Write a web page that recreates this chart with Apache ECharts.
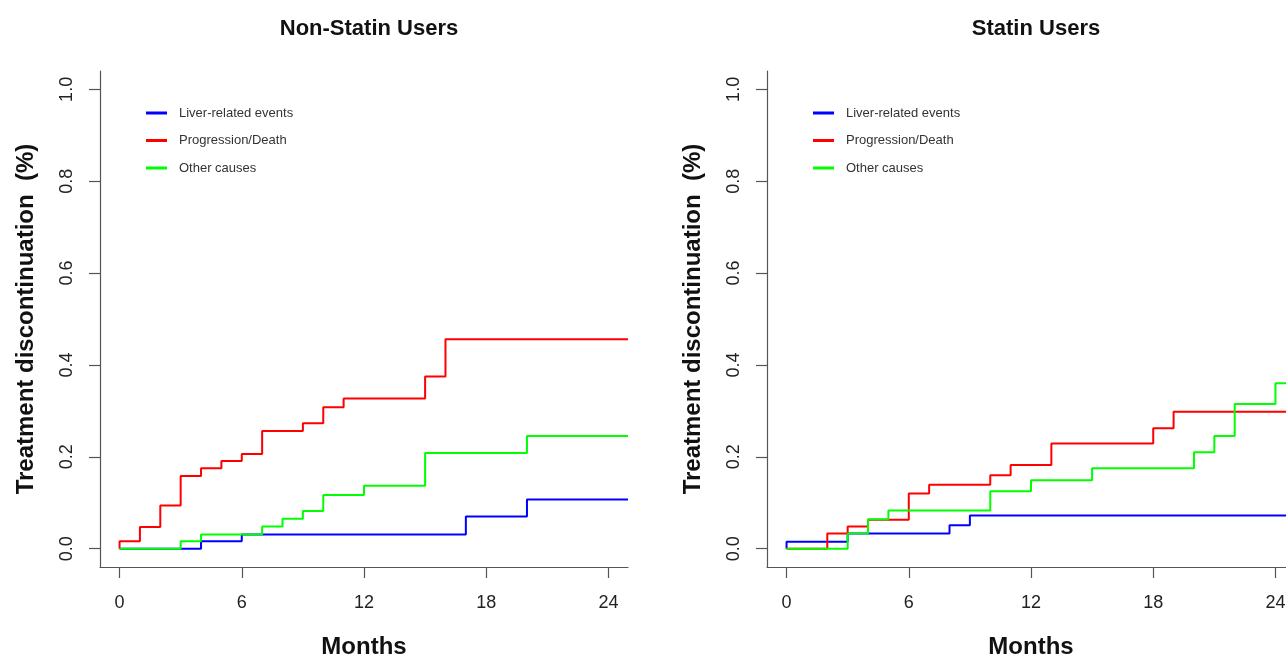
<!DOCTYPE html>
<html>
<head>
<meta charset="utf-8">
<script src="https://cdn.jsdelivr.net/npm/echarts@6/dist/echarts.min.js"></script>
<style>
  html, body { margin: 0; padding: 0; background: #fff; }
  #chart { width: 1286px; height: 660px; }
</style>
</head>
<body>
<div id="chart"></div>
<script>
// months at which each curve steps, and the cumulative value from that month on
let nsLiverT = [0, 4, 6, 17, 20];
let nsLiverY = [0, 0.016, 0.031, 0.070, 0.107];
let nsProgT = [0, 0, 1, 2, 3, 4, 5, 6, 7, 9, 10, 11, 15, 16];
let nsProgY = [0, 0.016, 0.047, 0.094, 0.158, 0.175, 0.191, 0.206, 0.256, 0.273, 0.308, 0.327, 0.375, 0.456];
let nsOtherT = [0, 3, 4, 7, 8, 9, 10, 12, 15, 20];
let nsOtherY = [0, 0.016, 0.031, 0.048, 0.065, 0.082, 0.117, 0.137, 0.208, 0.245];

let sLiverT = [0, 0, 3, 8, 9];
let sLiverY = [0, 0.015, 0.033, 0.051, 0.072];
let sProgT = [0, 2, 3, 4, 6, 7, 10, 11, 13, 18, 19];
let sProgY = [0, 0.033, 0.048, 0.063, 0.120, 0.139, 0.160, 0.182, 0.229, 0.262, 0.298];
let sOtherT = [0, 3, 4, 5, 10, 12, 15, 20, 21, 22, 24];
let sOtherY = [0, 0.033, 0.064, 0.083, 0.125, 0.149, 0.175, 0.210, 0.245, 0.315, 0.360];

let seriesNames = ['Liver-related events', 'Progression/Death', 'Other causes'];
let seriesColors = ['#0000ff', '#ff0000', '#00ff00'];
let panelTitles = ['Non-Statin Users', 'Statin Users'];
let xTicks = [0, 6, 12, 18, 24];
let yTicks = [0, 0.2, 0.4, 0.6, 0.8, 1.0];

// R style axis padding (4%)
let xMin = -0.96, xMax = 24.96;
let yMin = -0.04, yMax = 1.04;

const FONT = 'Arial, "Liberation Sans", sans-serif';
const AXIS_COLOR = '#555';

function steps(t, y) {
    let pts = t.map((v, i) => [v, y[i]]);
    pts.push([xMax, y[y.length - 1]]);
    return pts;
}

function xAxisFor(idx) {
    return {
        gridIndex: idx,
        type: 'value',
        min: xMin,
        max: xMax,
        name: 'Months',
        nameLocation: 'middle',
        nameGap: 68,
        nameTextStyle: { fontFamily: FONT, fontSize: 24, fontWeight: 'bold', color: '#111' },
        axisLine: { show: true, onZero: false, lineStyle: { color: AXIS_COLOR, width: 1.2 } },
        axisTick: { show: true, length: 11, customValues: xTicks, lineStyle: { color: AXIS_COLOR, width: 1.2 } },
        axisLabel: { customValues: xTicks, margin: 27, fontFamily: FONT, fontSize: 18, color: '#222' },
        splitLine: { show: false }
    };
}

function yAxisFor(idx) {
    return {
        gridIndex: idx,
        type: 'value',
        min: yMin,
        max: yMax,
        name: 'Treatment discontinuation  (%)',
        nameLocation: 'middle',
        nameGap: 62,
        nameTextStyle: { fontFamily: FONT, fontSize: 24, fontWeight: 'bold', color: '#111' },
        axisLine: { show: true, onZero: false, lineStyle: { color: AXIS_COLOR, width: 1.2 } },
        axisTick: { show: true, length: 11, customValues: yTicks, lineStyle: { color: AXIS_COLOR, width: 1.2 } },
        axisLabel: {
            customValues: yTicks,
            rotate: 90,
            margin: 24,
            fontFamily: FONT, fontSize: 18, color: '#222',
            formatter: v => v.toFixed(1)
        },
        splitLine: { show: false }
    };
}

function line(name, color, idx, data) {
    return {
        name: name,
        type: 'line',
        step: 'end',
        xAxisIndex: idx,
        yAxisIndex: idx,
        showSymbol: false,
        symbol: 'none',
        lineStyle: { color: color, width: 2 },
        itemStyle: { color: color },
        data: data
    };
}

let legendStyle = {
    orient: 'vertical',
    top: 106,
    padding: 0,
    icon: 'rect',
    itemWidth: 21,
    itemHeight: 3,
    itemGap: 13.5,
    textStyle: { fontFamily: FONT, fontSize: 13, color: '#333', lineHeight: 14, padding: [0, 0, 0, 7] },
    data: seriesNames
};

let option = {
    animation: false,
    backgroundColor: '#fff',
    title: [
        { text: panelTitles[0], left: 364, top: 13, textAlign: 'center',
          textStyle: { fontFamily: FONT, fontSize: 22, fontWeight: 'bold', color: '#111' } },
        { text: panelTitles[1], left: 1031, top: 13, textAlign: 'center',
          textStyle: { fontFamily: FONT, fontSize: 22, fontWeight: 'bold', color: '#111' } }
    ],
    legend: [
        Object.assign({}, legendStyle, { left: 146 }),
        Object.assign({}, legendStyle, { left: 813 })
    ],
    grid: [
        { left: 100, top: 71, width: 528, height: 496, outerBoundsMode: 'none', containLabel: false },
        { left: 767, top: 71, width: 528, height: 496, outerBoundsMode: 'none', containLabel: false }
    ],
    xAxis: [xAxisFor(0), xAxisFor(1)],
    yAxis: [yAxisFor(0), yAxisFor(1)],
    series: [
        line(seriesNames[0], seriesColors[0], 0, steps(nsLiverT, nsLiverY)),
        line(seriesNames[1], seriesColors[1], 0, steps(nsProgT, nsProgY)),
        line(seriesNames[2], seriesColors[2], 0, steps(nsOtherT, nsOtherY)),
        line(seriesNames[0], seriesColors[0], 1, steps(sLiverT, sLiverY)),
        line(seriesNames[1], seriesColors[1], 1, steps(sProgT, sProgY)),
        line(seriesNames[2], seriesColors[2], 1, steps(sOtherT, sOtherY))
    ]
};

let chart = echarts.init(document.getElementById('chart'));
chart.setOption(option);
</script>
</body>
</html>
